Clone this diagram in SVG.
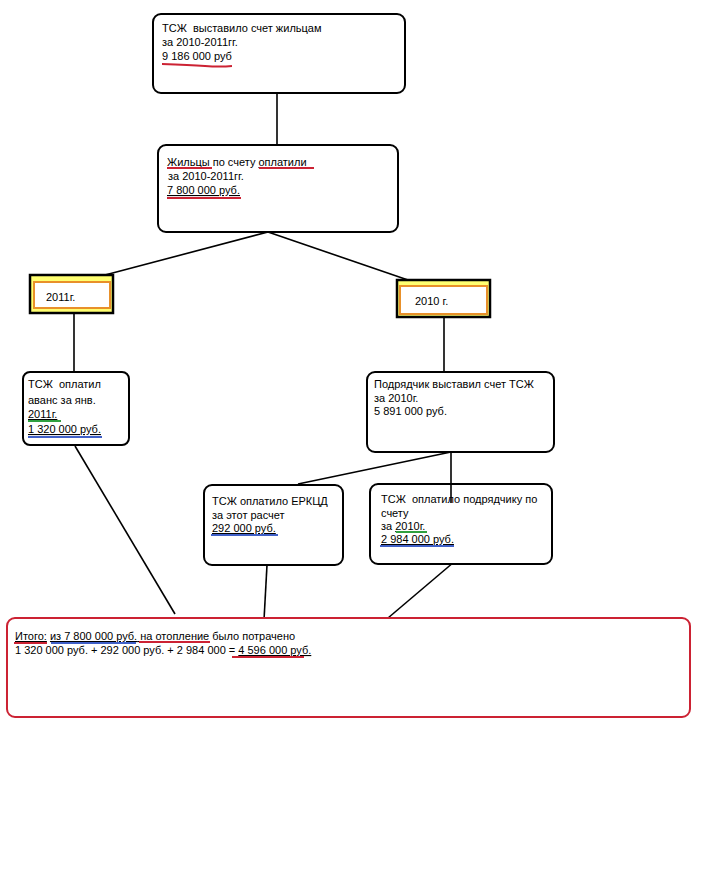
<svg xmlns="http://www.w3.org/2000/svg" width="704" height="885" viewBox="0 0 704 885">
<style>
text{font-family:"Liberation Sans",Arial,sans-serif;font-size:11px;fill:#000;white-space:pre}
.box{fill:#fff;stroke:#000;stroke-width:2}
.redbox{fill:#fff;stroke:#cc2233;stroke-width:2}
.yr{fill:#ffff70;stroke:#000;stroke-width:2.5}
.or{fill:#fff;stroke:#e8902a;stroke-width:2}
.con line{stroke:#000;stroke-width:1.6}
.ur{stroke:#cc2233;stroke-width:2;fill:none}
.ub{stroke:#4060c8;stroke-width:2;fill:none}
.ug{stroke:#30a040;stroke-width:2;fill:none}
.u{text-decoration:underline}
</style>
<rect width="704" height="885" fill="#fff"/>
<g id="connectors" class="con">
<line x1="277" y1="93" x2="277" y2="145"/>
<line x1="268" y1="232" x2="105" y2="275"/>
<line x1="268" y1="232" x2="408" y2="280"/>
<line x1="74" y1="313" x2="74" y2="372"/>
<line x1="444" y1="318" x2="444" y2="372"/>
<line x1="451" y1="452" x2="298" y2="484"/>
<line x1="75" y1="446" x2="175" y2="614"/>
<line x1="267" y1="565" x2="264" y2="620"/>
<line x1="454" y1="562" x2="388" y2="618"/>
</g>
<g id="n1">
<rect class="box" x="153" y="14" width="252" height="79" rx="8"/>
<text x="162" y="32">ТСЖ  выставило счет жильцам</text>
<text x="162" y="46">за 2010-2011гг.</text>
<text x="162" y="60">9 186 000 руб</text>
<path class="ur" d="M162 64 Q190 65 205 66 T232 66"/>
</g>
<g id="n2">
<rect class="box" x="158" y="145" width="240" height="87" rx="8"/>
<text x="167" y="166"><tspan class="u">Жильцы</tspan> по счету <tspan class="u">оплатили </tspan></text>
<text x="168" y="180">за 2010-2011гг.</text>
<text x="167" y="194" class="u">7 800 000 руб.</text>
<line class="ur" x1="167" y1="168" x2="212" y2="168"/>
<line class="ur" x1="259" y1="168" x2="314" y2="168"/>
<line class="ur" x1="167" y1="198" x2="241" y2="198"/>
</g>
<g id="n2011">
<rect class="yr" x="30" y="275" width="83" height="38"/>
<rect class="or" x="34" y="282" width="76" height="26"/>
<text x="46" y="301">2011г.</text>
</g>
<g id="n2010">
<rect class="yr" x="397" y="280" width="93" height="37"/>
<rect class="or" x="400" y="286" width="87" height="28"/>
<text x="415" y="305">2010 г.</text>
</g>
<g id="nAdv">
<rect class="box" x="23" y="372" width="106" height="73" rx="7"/>
<text x="28" y="388">ТСЖ  оплатил</text>
<text x="28" y="404">аванс за янв.</text>
<text x="28" y="418" class="u">2011г.</text>
<text x="28" y="433" class="u">1 320 000 руб.</text>
<line class="ug" x1="28" y1="421" x2="61" y2="421"/>
<line class="ub" x1="28" y1="437" x2="102" y2="437"/>
</g>
<g id="nPodr">
<rect class="box" x="367" y="372" width="187" height="80" rx="8"/>
<text x="374" y="388">Подрядчик выставил счет ТСЖ</text>
<text x="374" y="402">за 2010г.</text>
<text x="374" y="415">5 891 000 руб.</text>
</g>
<g id="nErk">
<rect class="box" x="204" y="485" width="139" height="80" rx="8"/>
<text x="212" y="505">ТСЖ оплатило ЕРКЦД</text>
<text x="212" y="519">за этот расчет</text>
<text x="212" y="532" class="u">292 000 руб.</text>
<line class="ub" x1="211" y1="535" x2="278" y2="535"/>
</g>
<g id="nPaid">
<rect class="box" x="370" y="484" width="182" height="80" rx="8"/>
<text x="381" y="503">ТСЖ  оплатило подрядчику по</text>
<text x="381" y="517">счету</text>
<text x="381" y="530">за <tspan class="u">2010г.</tspan></text>
<text x="381" y="543" class="u">2 984 000 руб.</text>
<line class="ug" x1="396" y1="532" x2="427" y2="532"/>
<line class="ub" x1="380" y1="546" x2="454" y2="546"/>
</g>
<g id="connector-top" class="con">
<line x1="451" y1="452" x2="451" y2="503"/>
</g>
<g id="nTotal">
<rect class="redbox" x="7" y="618" width="683" height="99" rx="8"/>
<text x="15" y="640"><tspan class="u">Итого:</tspan> <tspan class="u">из 7 800 000 руб.</tspan><tspan class="u"> на отопление</tspan> было потрачено</text>
<text x="15" y="654">1 320 000 руб. + 292 000 руб. + 2 984 000 = <tspan class="u">4 596 000 руб.</tspan></text>
<line class="ur" x1="14" y1="643" x2="47" y2="643"/>
<line class="ub" x1="51" y1="643" x2="136" y2="643"/>
<line class="ur" x1="139" y1="642" x2="210" y2="642"/>
<line class="ur" x1="232" y1="657" x2="304" y2="657"/>
</g>
</svg>
